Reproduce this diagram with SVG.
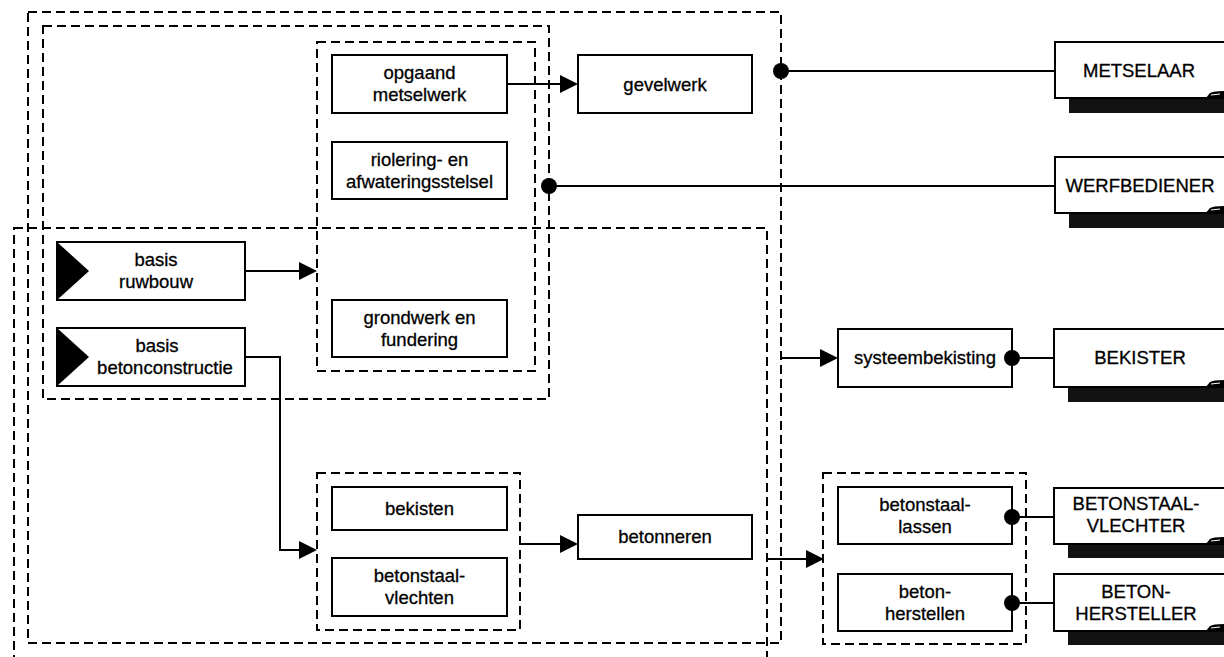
<svg xmlns="http://www.w3.org/2000/svg" width="1224" height="657" viewBox="0 0 1224 657">
<style>
  .frame{fill:none;stroke:#000;stroke-width:2;stroke-dasharray:9 5}
  .box{fill:#fff;stroke:#000;stroke-width:2}
  .role{fill:#fff;stroke:#000;stroke-width:2}
  .shadow{fill:#121212}
  .fold{fill:#000}
  .foldline{fill:none;stroke:#fff;stroke-width:1}
  .tri{fill:#000}
  .line{fill:none;stroke:#000;stroke-width:2}
  .arrow{fill:#000}
  .dot{fill:#000}
  text{font-family:"Liberation Sans",Arial,sans-serif;font-size:18.5px;fill:#000;stroke:#000;stroke-width:0.3;text-anchor:middle}
</style>
<rect width="1224" height="657" fill="#fff"/>

<g id="frames">
  <rect id="frame-A" class="frame" x="28" y="12" width="753" height="631"/>
  <rect id="frame-B" class="frame" x="43" y="26" width="506" height="373"/>
  <rect id="frame-C" class="frame" x="317" y="42" width="218" height="329"/>
  <rect id="frame-D" class="frame" x="14" y="228" width="753" height="452"/>
  <rect id="frame-E" class="frame" x="317" y="473" width="203" height="157"/>
  <rect id="frame-F" class="frame" x="823" y="473" width="203" height="171"/>
</g>

<g id="connectors">
  <path class="line" d="M507,84 H561"/>
  <polygon class="arrow" points="560,75 578,84 560,93"/>
  <path class="line" d="M245,271 H300"/>
  <polygon class="arrow" points="299,262 317,271 299,280"/>
  <path class="line" d="M245,357 H280 V550 H300"/>
  <polygon class="arrow" points="299,541 317,550 299,559"/>
  <path class="line" d="M520,544 H561"/>
  <polygon class="arrow" points="560,535 578,544 560,553"/>
  <path class="line" d="M781,358 H821"/>
  <polygon class="arrow" points="820,349 838,358 820,367"/>
  <path class="line" d="M767,559 H807"/>
  <polygon class="arrow" points="806,550 824,559 806,568"/>
  <path class="line" d="M781,71 H1055"/>
  <circle class="dot" cx="781" cy="71" r="8"/>
  <path class="line" d="M549,186 H1055"/>
  <circle class="dot" cx="549" cy="186" r="8"/>
  <path class="line" d="M1012,358 H1054"/>
  <path class="line" d="M1012,517 H1054"/>
  <path class="line" d="M1012,603 H1054"/>
</g>

<g id="opgaand-metselwerk">
  <rect class="box" x="332" y="55" width="175" height="58"/>
  <text x="419.5" y="79">opgaand</text>
  <text x="419.5" y="101">metselwerk</text>
</g>
<g id="riolering">
  <rect class="box" x="332" y="142" width="175" height="57"/>
  <text x="419.5" y="165.5">riolering- en</text>
  <text x="419.5" y="187.5">afwateringsstelsel</text>
</g>
<g id="gevelwerk">
  <rect class="box" x="578" y="55" width="174" height="58"/>
  <text x="665" y="91">gevelwerk</text>
</g>
<g id="basis-ruwbouw">
  <rect class="box" x="57" y="242" width="188" height="58"/>
  <polygon class="tri" points="57,242 89,271 57,300"/>
  <text x="156" y="266">basis</text>
  <text x="156" y="288">ruwbouw</text>
</g>
<g id="basis-betonconstructie">
  <rect class="box" x="57" y="328" width="188" height="58"/>
  <polygon class="tri" points="57,328 89,357 57,386"/>
  <text x="157" y="352">basis</text>
  <text x="165" y="374">betonconstructie</text>
</g>
<g id="grondwerk">
  <rect class="box" x="332" y="300" width="175" height="57"/>
  <text x="419.5" y="323.5">grondwerk en</text>
  <text x="419.5" y="345.5">fundering</text>
</g>
<g id="systeembekisting">
  <rect class="box" x="838" y="329" width="174" height="58"/>
  <text x="925" y="364">systeembekisting</text>
  <circle class="dot" cx="1012" cy="358" r="8"/>
</g>
<g id="bekisten">
  <rect class="box" x="332" y="487" width="175" height="43"/>
  <text x="419.5" y="515">bekisten</text>
</g>
<g id="betonstaal-vlechten">
  <rect class="box" x="332" y="558" width="175" height="58"/>
  <text x="419.5" y="582">betonstaal-</text>
  <text x="419.5" y="604">vlechten</text>
</g>
<g id="betonneren">
  <rect class="box" x="578" y="515" width="174" height="44"/>
  <text x="665" y="543">betonneren</text>
</g>
<g id="betonstaal-lassen">
  <rect class="box" x="838" y="487" width="174" height="57"/>
  <text x="925" y="510.5">betonstaal-</text>
  <text x="925" y="532.5">lassen</text>
  <circle class="dot" cx="1012" cy="517" r="8"/>
</g>
<g id="beton-herstellen">
  <rect class="box" x="838" y="574" width="174" height="57"/>
  <text x="925" y="597.5">beton-</text>
  <text x="925" y="619.5">herstellen</text>
  <circle class="dot" cx="1012" cy="603" r="8"/>
</g>

<g id="role-metselaar">
  <rect class="shadow" x="1069" y="98" width="170" height="15"/>
  <rect class="role" x="1055" y="42" width="185" height="56"/>
  <path class="fold" d="M1205,99 L1210,93 Q1213,91 1224,91 L1224,99 Z"/>
  <path class="foldline" d="M1211,95 L1220,94"/>
  <text x="1139" y="77">METSELAAR</text>
</g>
<g id="role-werfbediener">
  <rect class="shadow" x="1069" y="213" width="170" height="15"/>
  <rect class="role" x="1055" y="157" width="185" height="56"/>
  <path class="fold" d="M1205,214 L1210,208 Q1213,206 1224,206 L1224,214 Z"/>
  <path class="foldline" d="M1211,210 L1220,209"/>
  <text x="1140" y="192">WERFBEDIENER</text>
</g>
<g id="role-bekister">
  <rect class="shadow" x="1068" y="387" width="170" height="15"/>
  <rect class="role" x="1054" y="329" width="186" height="58"/>
  <path class="fold" d="M1205,388 L1210,382 Q1213,380 1224,380 L1224,388 Z"/>
  <path class="foldline" d="M1211,384 L1220,383"/>
  <text x="1140" y="364">BEKISTER</text>
</g>
<g id="role-betonstaalvlechter">
  <rect class="shadow" x="1068" y="544" width="170" height="14"/>
  <rect class="role" x="1054" y="488" width="186" height="56"/>
  <path class="fold" d="M1205,545 L1210,539 Q1213,537 1224,537 L1224,545 Z"/>
  <path class="foldline" d="M1211,541 L1220,540"/>
  <text x="1136" y="510">BETONSTAAL-</text>
  <text x="1136" y="532">VLECHTER</text>
</g>
<g id="role-betonhersteller">
  <rect class="shadow" x="1068" y="631" width="170" height="14"/>
  <rect class="role" x="1054" y="574" width="186" height="57"/>
  <path class="fold" d="M1205,632 L1210,626 Q1213,624 1224,624 L1224,632 Z"/>
  <path class="foldline" d="M1211,628 L1220,627"/>
  <text x="1136" y="597.5">BETON-</text>
  <text x="1136" y="619.5">HERSTELLER</text>
</g>
</svg>
